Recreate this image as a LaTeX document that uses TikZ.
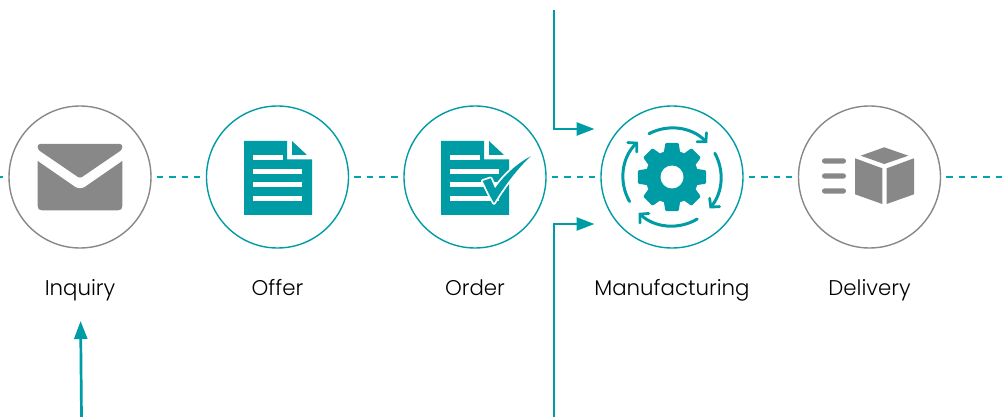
\documentclass[tikz,border=0pt]{standalone}
\usepackage{fontspec}
\setmainfont{Poppins}[UprightFont=* Light]
\usetikzlibrary{arrows.meta,calc}
\definecolor{teal1}{HTML}{009CA6}
\definecolor{dashc}{HTML}{00A5B0}
\definecolor{grey1}{HTML}{888888}
\definecolor{ink}{HTML}{000000}
\tikzset{
  ring/.style={circle,draw=#1,line width=1.4pt,minimum size=142pt,inner sep=0pt},
  lab/.style={font=\fontsize{21.3}{24}\selectfont,text=ink,inner sep=0pt,anchor=base},
  link/.style={draw=dashc,line width=1.2pt,dash pattern=on 6.4pt off 6pt},
  feed/.style={draw=teal1,line width=2.7pt,-{Triangle[length=18pt,width=13pt]}},
  turn/.style={draw=teal1,line width=3pt,line cap=round,-{Straight Barb[length=6pt,width=13pt,line cap=round,line width=2.8pt]}},
}
\newcommand{\docicon}[1]{%
  \begin{scope}[shift={(#1,0)}]
    \fill[teal1] (244,141) -- (287,141) -- (287,159.4) -- (312,159.4) -- (312,215) -- (244,215) -- cycle;
    \fill[teal1] (292,141) -- (307,155) -- (292,155) -- cycle;
    \fill[white] (253,154.8) rectangle (283,159.6);
    \foreach \y in {168.8,182.5,196.4}{\fill[white] (253,\y) rectangle (302,\y+4.8);}
  \end{scope}}
\begin{document}
\begin{tikzpicture}[x=1pt,y=-1pt]
\useasboundingbox (0,0) rectangle (1005,417);
\fill[white] (0,0) rectangle (1005,417);
\node[ring=grey1] (inq) at (80,177) {};
\node[ring=teal1] (off) at (277.5,177) {};
\node[ring=teal1] (ord) at (475,177) {};
\node[ring=teal1] (man) at (672,177) {};
\node[ring=grey1] (del) at (869.5,177) {};
\node[lab] (linq) at (80,295.5) {Inquiry};
\node[lab] (loff) at (277.5,295.5) {Offer};
\node[lab] (lord) at (475,295.5) {Order};
\node[lab] (lman) at (672,295.5) {Manufacturing};
\node[lab] (ldel) at (869.5,295.5) {Delivery};
\coordinate (startL) at (-3.4,177);
\coordinate (endR) at (1005,177);
\draw[link] (startL) -- ([xshift=-5pt]inq.west);
\draw[link] ([xshift=5pt]inq.east) -- ([xshift=-5pt]off.west);
\draw[link] ([xshift=5pt]off.east) -- ([xshift=-5pt]ord.west);
\draw[link] ([xshift=5pt]ord.east) -- ([xshift=-5pt]man.west);
\draw[link] ([xshift=5pt]man.east) -- ([xshift=-5pt]del.west);
\draw[link] ([xshift=5pt]del.east) -- (endR);
\coordinate (t0) at (554,10);
\coordinate (t1) at (594.5,129);
\coordinate (b0) at (554,417);
\coordinate (b1) at (594.5,224);
\coordinate (i0) at (81.5,417);
\coordinate (i1) at (80.6,321);
\draw[feed] (t0) |- (t1);
\draw[feed] (b0) |- (b1);
\draw[feed] (i0) -- (i1);
% envelope
\fill[grey1,rounded corners=2.5pt] (37.7,149.5) -- (37.7,144) -- (122.3,144) -- (122.3,149.5) -- (80,178.4) -- cycle;
\fill[grey1] (37.7,161) -- (75,186.8) .. controls (78,188.8) and (82,188.8) .. (85,186.8) -- (122.3,161) -- (122.3,206) .. controls (122.3,209) and (121,210.3) .. (118,210.3) -- (42,210.3) .. controls (39,210.3) and (37.7,209) .. (37.7,206) -- cycle;
% documents
\docicon{0}
\docicon{197}
% tick
\path[fill=teal1,draw=white,line width=3.6pt,line join=round]
  (482.7,181) -- (490.7,178.3) -- (495,188.3) .. controls (505,174) and (518,163) .. (531,156)
  .. controls (518,168) and (505,185) .. (494,203) -- (490,196) -- cycle;
\fill[teal1] (482.7,181) -- (490.7,178.3) -- (495,188.3) .. controls (505,174) and (518,163) .. (531,156)
  .. controls (518,168) and (505,185) .. (494,203) -- (490,196) -- cycle;
% gear
\begin{scope}[shift={(672,177)},y=1pt]
  \fill[teal1] (0,0) circle (26.5);
  \foreach \a in {0,45,...,315}{
    \fill[teal1,rotate=\a,rounded corners=1.2pt] (22,-8.6) -- (34.2,-6.6) -- (34.2,6.6) -- (22,8.6) -- cycle;
  }
  \fill[white] (0,0) circle (11.5);
  \draw[turn] (118:49) arc (118:44:49);
  \draw[turn] (29:49) arc (29:-40:49);
  \draw[turn] (-59:49) arc (-59:-133:49);
  \draw[turn] (210:49) arc (210:134:49);
\end{scope}
% delivery
\fill[grey1,rounded corners=2.7pt] (822,158.3) rectangle (846,163.7);
\fill[grey1,rounded corners=2.7pt] (822,173.3) rectangle (846,178.7);
\fill[grey1,rounded corners=2.7pt] (822,188.3) rectangle (846,193.7);
\fill[grey1] (884.3,147.3) -- (908.3,155.7) -- (884.3,164) -- (860.7,155.7) -- cycle;
\fill[grey1] (855,158.3) -- (882.3,168.3) -- (882.3,204) -- (855,194.3) -- cycle;
\fill[grey1] (886.7,168.3) -- (914,158.3) -- (914,194.3) -- (886.7,204) -- cycle;
\end{tikzpicture}
\end{document}
